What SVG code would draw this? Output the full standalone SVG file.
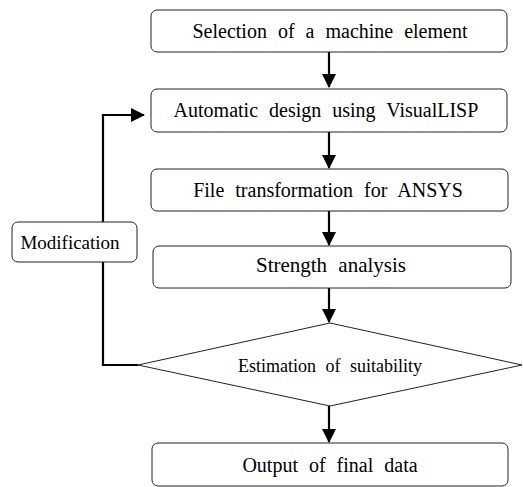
<svg xmlns="http://www.w3.org/2000/svg" width="523" height="487" viewBox="0 0 523 487">
<style>
.box{fill:#fff;stroke:#222;stroke-width:1}
.t{font-family:"Liberation Serif","Times New Roman",serif;font-size:20px;fill:#000;text-anchor:middle;dominant-baseline:central;word-spacing:6px}
.c{fill:none;stroke:#000;stroke-width:2.2}
</style>
<defs>
<marker id="ah" viewBox="0 0 14 14" refX="13" refY="7" markerWidth="14" markerHeight="14" markerUnits="userSpaceOnUse" orient="auto">
<path d="M0,0 L14,7 L0,14 z" fill="#000"/>
</marker>
</defs>
<rect width="523" height="487" fill="#fff"/>
<g id="connectors">
<line class="c" x1="329" y1="52" x2="329" y2="87" marker-end="url(#ah)"/>
<line class="c" x1="329" y1="132" x2="329" y2="168" marker-end="url(#ah)"/>
<line class="c" x1="329" y1="211" x2="329" y2="245" marker-end="url(#ah)"/>
<line class="c" x1="329" y1="288" x2="329" y2="322" marker-end="url(#ah)"/>
<line class="c" x1="329" y1="406" x2="329" y2="442" marker-end="url(#ah)"/>
<path class="c" d="M138,365 H103 V115 H144" marker-end="url(#ah)"/>
</g>
<g id="n1"><rect class="box" x="151" y="10" width="356" height="42" rx="6"/><text class="t" x="330" y="31">Selection of a machine element</text></g>
<g id="n2"><rect class="box" x="151" y="89" width="356" height="43" rx="6"/><text class="t" x="326" y="110">Automatic design using VisualLISP</text></g>
<g id="n3"><rect class="box" x="151" y="169" width="357" height="42" rx="6"/><text class="t" x="328" y="190">File transformation for ANSYS</text></g>
<g id="n4"><rect class="box" x="153" y="246" width="358" height="42" rx="6"/><text class="t" x="331" y="265" style="font-size:21px">Strength analysis</text></g>
<g id="n5"><polygon class="box" points="330,323 522,365 330,406 138,365"/><text class="t" x="330" y="366" style="font-size:18px;word-spacing:5px">Estimation of suitability</text></g>
<g id="n6"><rect class="box" x="152" y="443" width="356" height="43" rx="6"/><text class="t" x="330" y="465">Output of final data</text></g>
<g id="mod"><rect class="box" x="12" y="222" width="125" height="40" rx="6"/><text class="t" x="70" y="242" style="font-size:19px;word-spacing:0">Modification</text></g>
</svg>
